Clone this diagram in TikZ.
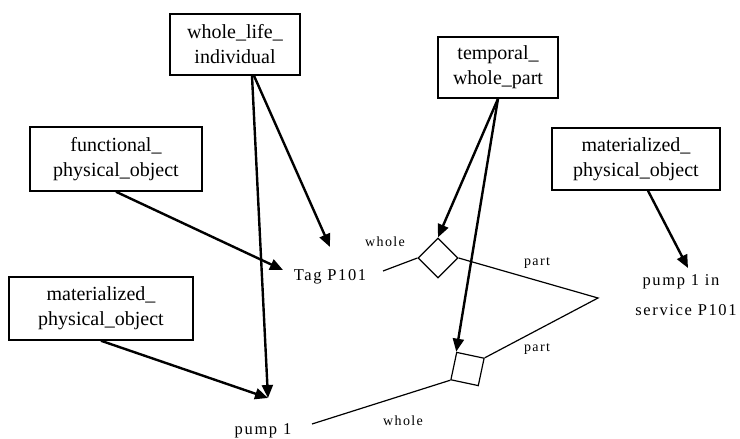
\documentclass[tikz,border=0pt]{standalone}
\usepackage{fontspec}
\setmainfont{Liberation Serif}
\newfontfamily\lblfont[LetterSpace=10]{Liberation Serif}
\usetikzlibrary{arrows.meta,shapes.geometric,calc}
\begin{document}
\begin{tikzpicture}[x=1pt,y=-1pt,
  box/.style={draw,line width=1.5pt,align=center,font=\fontsize{20}{25}\selectfont,inner sep=0pt},
  biglbl/.style={font=\lblfont\fontsize{16.5}{18}\selectfont,inner sep=0pt},
  smalllbl/.style={font=\lblfont\fontsize{14}{16}\selectfont,inner sep=0pt},
  arr/.style={line width=2.4pt,-{Triangle[length=13pt,width=11pt]}},
  rel/.style={line width=1.2pt},
  dia/.style={draw,line width=1.2pt,inner sep=0pt}]
\useasboundingbox (0,0) rectangle (740,439);
% boxes
\node[box,minimum width=130,minimum height=61] (wli) at (235,44.5) {whole\_life\_\\individual};
\node[box,minimum width=120,minimum height=61] (twp) at (498,67.5) {temporal\_\\whole\_part};
\node[box,minimum width=172,minimum height=64] (fpo) at (116,159) {functional\_\\physical\_object};
\node[box,minimum width=184,minimum height=63] (mpoa) at (101,308.5) {materialized\_\\physical\_object};
\node[box,minimum width=168,minimum height=62] (mpob) at (636,159) {materialized\_\\physical\_object};
% texts
\node[biglbl] (tag) at (330,277) {Tag P101};
\node[biglbl] (pump) at (263,431) {pump 1};
\node[biglbl] (pin) at (681,282) {pump 1 in};
\node[biglbl] (serv) at (686,310) {service P101};
\node[smalllbl] (w1) at (385,242) {whole};
\node[smalllbl] (p1) at (537,263) {part};
\node[smalllbl] (p2) at (537,349) {part};
\node[smalllbl] (w2) at (403,421) {whole};
% diamonds
\node[dia,shape=diamond,minimum width=40,minimum height=40] (da) at (438,258) {};
\node[dia,shape=rectangle,minimum width=28,minimum height=28,rotate=-12] (db) at (467.5,369) {};
% free ends
\coordinate (tagtip) at (330,247);
\coordinate (tagarr) at (283,270);
\coordinate (pumptip) at (268,398);
\coordinate (pintip) at (688,268);
\coordinate (tagend) at (383,271);
\coordinate (apex) at (598,298);
\coordinate (wend) at (312,424);
% relations
\draw[rel] (tagend) -- (da.west);
\draw[rel] (da.east) -- (apex) -- (db.north east);
\draw[rel] (db.south west) -- (wend);
% arrows
\draw[arr] ($(wli.south)+(19,0)$) -- (tagtip);
\draw[arr] ($(wli.south)+(17,0)$) -- (pumptip);
\draw[arr] (fpo.south) -- (tagarr);
\draw[arr] (mpoa.south) -- (pumptip);
\draw[arr] (twp.south) -- (da.north);
\draw[arr] (twp.south) -- (db.north west);
\draw[arr] ($(mpob.south)+(12,0)$) -- (pintip);
\end{tikzpicture}
\end{document}
